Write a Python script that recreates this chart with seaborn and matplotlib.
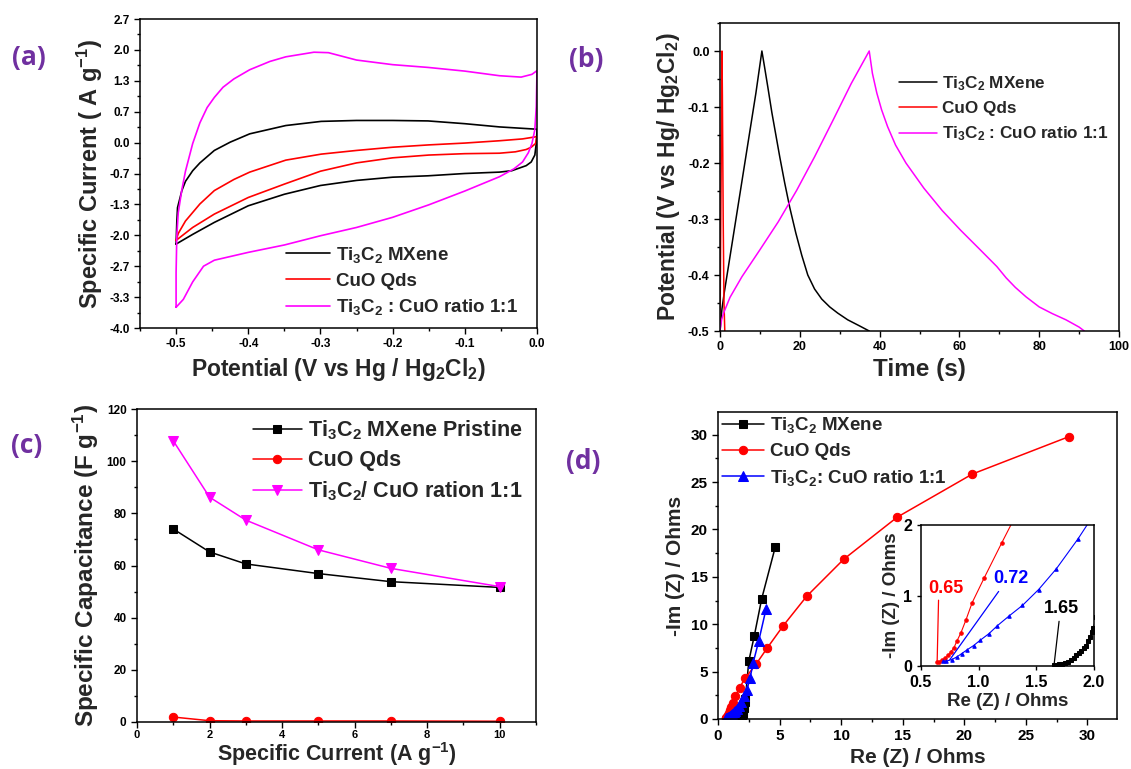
import numpy as np
import pandas as pd
import matplotlib
matplotlib.use('Agg')
import matplotlib.pyplot as plt
from matplotlib.ticker import MultipleLocator, FixedLocator
import seaborn as sns

sns.set_theme(style='ticks')
plt.rcParams['font.family'] = ['Liberation Sans', 'DejaVu Sans']
plt.rcParams['font.weight'] = 'bold'
plt.rcParams['axes.labelweight'] = 'bold'
plt.rcParams['mathtext.fontset'] = 'custom'
plt.rcParams['mathtext.rm'] = 'Liberation Sans:bold'
plt.rcParams['mathtext.it'] = 'Liberation Sans:bold'
plt.rcParams['mathtext.bf'] = 'Liberation Sans:bold'
plt.rcParams['mathtext.default'] = 'rm'
plt.rcParams['axes.linewidth'] = 1.1
plt.rcParams['axes.edgecolor'] = 'black'

PURPLE = '#7030A0'
BLACK, RED, MAG, BLUE = 'black', '#FF0000', '#FF00FF', '#0000FF'

lab_ti = r'Ti$_3$C$_2$ MXene'
lab_cuo = 'CuO Qds'
lab_mix = r'Ti$_3$C$_2$ : CuO ratio 1:1'

# ---- (a) CV curves: potential (V) / specific current (A/g), closed loops
cv_ti_v = [-0.500, -0.499, -0.498, -0.492, -0.487, -0.477, -0.467, -0.447, -0.425, -0.398, -0.348,
           -0.299, -0.250, -0.200, -0.151, -0.100, -0.052, 0.0,
           0.0, -0.001, -0.003, -0.008, -0.015, -0.035, -0.052, -0.100, -0.151, -0.200, -0.250,
           -0.300, -0.350, -0.400, -0.447, -0.477, -0.500]
cv_ti_i = [-2.18, -1.70, -1.39, -1.02, -0.82, -0.59, -0.42, -0.15, 0.03, 0.21, 0.39,
           0.48, 0.50, 0.50, 0.49, 0.43, 0.36, 0.31,
           0.28, 0.0, -0.25, -0.40, -0.48, -0.59, -0.62, -0.65, -0.70, -0.73, -0.80,
           -0.91, -1.10, -1.35, -1.71, -1.97, -2.18]

cv_cuo_v = [-0.500, -0.497, -0.487, -0.467, -0.447, -0.420, -0.398, -0.348, -0.299, -0.250, -0.200,
            -0.150, -0.100, -0.052, -0.020, 0.0,
            -0.002, -0.008, -0.015, -0.030, -0.052, -0.100, -0.150, -0.200, -0.250, -0.300,
            -0.350, -0.400, -0.447, -0.477, -0.500]
cv_cuo_i = [-2.10, -1.95, -1.68, -1.31, -1.02, -0.78, -0.62, -0.36, -0.23, -0.15, -0.08,
            -0.03, 0.01, 0.06, 0.10, 0.15,
            0.0, -0.08, -0.13, -0.18, -0.21, -0.22, -0.25, -0.31, -0.42, -0.60,
            -0.88, -1.17, -1.53, -1.82, -2.10]

cv_mix_v = [-0.500, -0.500, -0.499, -0.497, -0.492, -0.487, -0.477, -0.467, -0.457, -0.447, -0.435,
            -0.420, -0.398, -0.370, -0.348, -0.309, -0.289, -0.250, -0.200, -0.151, -0.100, -0.052,
            -0.022, -0.007, 0.0,
            -0.001, -0.003, -0.007, -0.012, -0.020, -0.032, -0.052, -0.100, -0.150, -0.200,
            -0.250, -0.300, -0.350, -0.400, -0.447, -0.462, -0.477, -0.490, -0.500]
cv_mix_i = [-3.55, -2.80, -2.00, -1.50, -1.00, -0.60, 0.00, 0.45, 0.78, 1.00, 1.22,
            1.40, 1.60, 1.78, 1.88, 1.98, 1.97, 1.81, 1.71, 1.65, 1.57, 1.47,
            1.44, 1.50, 1.58,
            0.80, 0.30, 0.00, -0.20, -0.40, -0.55, -0.72, -1.03, -1.33, -1.60,
            -1.82, -2.00, -2.20, -2.36, -2.53, -2.66, -3.00, -3.38, -3.55]

cv_yticks = list(np.linspace(-4.0, 2.7, 11))
cv_ylabels = ['-4.0', '-3.3', '-2.7', '-2.0', '-1.3', '-0.7', '0.0', '0.7', '1.3', '2.0', '2.7']
cv_xticks = [-0.5, -0.4, -0.3, -0.2, -0.1, 0.0]
cv_xlabels = ['-0.5', '-0.4', '-0.3', '-0.2', '-0.1', '0.0']

# ---- (b) GCD: time (s) / potential (V)
gcd_ti_t = [0, 0.5, 1.1, 3, 5, 7, 9, 10.5, 11.2, 12, 13, 14, 15, 16.2, 17.5, 19, 20.5, 22,
            23.7, 25.5, 27.5, 29.5, 32, 35, 37.4]
gcd_ti_v = [-0.5, -0.46, -0.43, -0.345, -0.255, -0.165, -0.075, 0.0, -0.03, -0.065, -0.11, -0.15,
            -0.19, -0.235, -0.28, -0.325, -0.365, -0.40, -0.425, -0.443, -0.457, -0.468, -0.48,
            -0.491, -0.5]
gcd_cuo_t = [0, 0.3, 0.5, 0.6, 0.8, 1.0, 1.2]
gcd_cuo_v = [-0.5, -0.2, 0.0, -0.08, -0.3, -0.45, -0.5]
gcd_mix_t = [0, 0.4, 0.9, 2.5, 5.5, 10, 14.6, 19.2, 23.7, 28.3, 32.9, 37.4,
             38.2, 39.3, 40.5, 42, 44, 46.6, 51.1, 55.7, 60.3, 64.8, 69.4, 71.7, 74, 76.7,
             80, 83.3, 86.7, 90, 91.3]
gcd_mix_v = [-0.5, -0.48, -0.468, -0.44, -0.403, -0.355, -0.305, -0.249, -0.189, -0.124, -0.058, 0.0,
             -0.04, -0.075, -0.105, -0.135, -0.168, -0.20, -0.245, -0.285, -0.32, -0.352, -0.385,
             -0.405, -0.422, -0.439, -0.457, -0.469, -0.48, -0.493, -0.5]

# ---- (c) rate capability
cur_density = [1, 2, 3, 5, 7, 10]
cap_ti = [74.0, 65.2, 60.6, 56.9, 53.8, 51.6]
cap_cuo = [1.9, 0.5, 0.4, 0.4, 0.4, 0.3]
cap_mix = [107.8, 86.2, 77.4, 66.0, 58.9, 51.9]

# ---- (d) Nyquist: Re(Z) / -Im(Z)
eis_ti_re = [1.654, 1.675, 1.70, 1.725, 1.75, 1.775, 1.80, 1.825, 1.847, 1.87, 1.89, 1.91, 1.93,
             1.95, 1.965, 1.98, 1.995, 2.02, 2.06, 2.10, 2.14, 2.18, 2.22, 2.5, 2.95, 3.55, 4.65]
eis_ti_im = [0.02, 0.02, 0.025, 0.03, 0.04, 0.06, 0.09, 0.12, 0.15, 0.18, 0.21, 0.25, 0.29,
             0.35, 0.41, 0.48, 0.545, 0.70, 0.90, 1.20, 1.50, 1.80, 2.10, 6.1, 8.8, 12.7, 18.15]
eis_cuo_re = [0.64, 0.66, 0.68, 0.71, 0.737, 0.76, 0.786, 0.81, 0.846, 0.889, 0.944, 1.048, 1.198,
              1.42, 1.75, 2.2, 3.1, 4.0, 5.3, 7.2, 10.2, 14.55, 20.65, 28.5]
eis_cuo_im = [0.06, 0.06, 0.08, 0.11, 0.15, 0.20, 0.26, 0.35, 0.47, 0.65, 0.90, 1.25, 1.74,
              2.45, 3.3, 4.3, 5.8, 7.5, 9.85, 12.95, 16.85, 21.3, 25.85, 29.8]
eis_mix_re = [0.69, 0.72, 0.765, 0.81, 0.852, 0.90, 0.956, 1.013, 1.09, 1.163, 1.264, 1.38, 1.52,
              1.674, 1.86, 2.1, 2.35, 2.6, 2.85, 3.3, 3.9]
eis_mix_im = [0.066, 0.07, 0.09, 0.128, 0.175, 0.23, 0.29, 0.365, 0.46, 0.573, 0.71, 0.86, 1.085,
              1.38, 1.80, 2.4, 3.1, 4.3, 5.9, 8.2, 11.6]

W, H = 1131, 769
fig = plt.figure(figsize=(W / 100, H / 100), dpi=100)


def box(l, t, r, b):
    return [l / W, 1 - b / H, (r - l) / W, (b - t) / H]


def style(ax, size):
    sns.despine(ax=ax, top=False, right=False)
    ax.tick_params(which='both', direction='out', top=False, right=False,
                   labelsize=size, width=1.0, colors='black')
    ax.tick_params(which='major', length=4)
    ax.tick_params(which='minor', length=2.5)
    ax.grid(False)


def line(ax, x, y, color, label=None, **kw):
    sns.lineplot(x=x, y=y, sort=False, estimator=None, color=color, label=label,
                 legend=label is not None, ax=ax, **kw)


# ---------------- (a)
ax = fig.add_axes(box(140, 19, 537, 328))
line(ax, cv_ti_v, cv_ti_i, BLACK, lab_ti, lw=1.2)
line(ax, cv_cuo_v, cv_cuo_i, RED, lab_cuo, lw=1.2)
line(ax, cv_mix_v, cv_mix_i, MAG, lab_mix, lw=1.2)
ax.set_xlim(-0.55, 0.0)
ax.set_ylim(-4.0, 2.7)
ax.set_xticks(cv_xticks, cv_xlabels)
ax.set_yticks(cv_yticks, cv_ylabels)
ax.xaxis.set_minor_locator(MultipleLocator(0.05))
ax.yaxis.set_minor_locator(FixedLocator([(a + b) / 2 for a, b in zip(cv_yticks[:-1], cv_yticks[1:])]))
style(ax, 8.5)
ax.set_xlabel(r'Potential (V vs Hg / Hg$_2$Cl$_2$)', fontsize=16.5, labelpad=4)
ax.set_ylabel(r'Specific Current ( A g$^{-1}$)', fontsize=17, labelpad=3)
ax.legend(loc='upper left', bbox_to_anchor=(0.368, 0.27), frameon=False, fontsize=13.5,
          handlelength=2.35, handletextpad=0.3, labelspacing=0.42, borderaxespad=0, borderpad=0)

# ---------------- (b)
ax = fig.add_axes(box(720, 23, 1119, 331))
line(ax, gcd_ti_t, gcd_ti_v, BLACK, lab_ti, lw=1.1)
line(ax, gcd_cuo_t, gcd_cuo_v, RED, lab_cuo, lw=1.1)
line(ax, gcd_mix_t, gcd_mix_v, MAG, lab_mix, lw=1.1)
ax.set_xlim(0, 100)
ax.set_ylim(-0.5, 0.05)
ax.xaxis.set_major_locator(MultipleLocator(20))
ax.xaxis.set_minor_locator(MultipleLocator(10))
ax.set_yticks([-0.5, -0.4, -0.3, -0.2, -0.1, 0.0], ['-0.5', '-0.4', '-0.3', '-0.2', '-0.1', '0.0'])
ax.yaxis.set_minor_locator(MultipleLocator(0.05))
style(ax, 9)
ax.set_xlabel('Time (s)', fontsize=17.5, labelpad=3)
ax.set_ylabel(r'Potential (V vs Hg/ Hg$_2$Cl$_2$)', fontsize=16.5, labelpad=4)
ax.legend(loc='upper left', bbox_to_anchor=(0.449, 0.835), frameon=False, fontsize=12.3,
          handlelength=2.2, handletextpad=0.3, labelspacing=0.5, borderaxespad=0, borderpad=0)

# ---------------- (c)
ax = fig.add_axes(box(137, 409, 536, 722))
line(ax, cur_density, cap_ti, BLACK, r'Ti$_3$C$_2$ MXene Pristine', lw=1.1, marker='s',
     markersize=6, markeredgecolor=BLACK)
line(ax, cur_density, cap_cuo, RED, lab_cuo, lw=1.1, marker='o', markersize=6, markeredgecolor=RED)
line(ax, cur_density, cap_mix, MAG, r'Ti$_3$C$_2$/ CuO ration 1:1', lw=1.1, marker='v',
     markersize=7, markeredgecolor=MAG)
ax.set_xlim(0, 11)
ax.set_ylim(0, 120)
ax.xaxis.set_major_locator(MultipleLocator(2))
ax.xaxis.set_minor_locator(MultipleLocator(1))
ax.yaxis.set_major_locator(MultipleLocator(20))
ax.yaxis.set_minor_locator(MultipleLocator(10))
style(ax, 8.5)
ax.tick_params(axis='x', pad=1.5, labelsize=8)
ax.set_xlabel(r'Specific Current (A g$^{-1}$)', fontsize=15.5, labelpad=0)
ax.set_ylabel(r'Specific Capacitance (F g$^{-1}$)', fontsize=17.5, labelpad=4)
ax.legend(loc='upper left', bbox_to_anchor=(0.29, 0.97), frameon=False, fontsize=15.5,
          handlelength=2.3, handletextpad=0.28, labelspacing=0.38, borderaxespad=0, borderpad=0)

# ---------------- (d)
ax = fig.add_axes(box(718, 412, 1117, 719))
line(ax, eis_ti_re, eis_ti_im, BLACK, lab_ti, lw=1.1, marker='s', markersize=6,
     markeredgecolor=BLACK)
line(ax, eis_cuo_re, eis_cuo_im, RED, lab_cuo, lw=1.1, marker='o', markersize=6,
     markeredgecolor=RED)
line(ax, eis_mix_re, eis_mix_im, BLUE, r'Ti$_3$C$_2$: CuO ratio 1:1', lw=1.1, marker='^',
     markersize=6.5, markeredgecolor=BLUE)
ax.set_xlim(0, 32.4)
ax.set_ylim(0, 32.4)
ax.xaxis.set_major_locator(MultipleLocator(5))
ax.xaxis.set_minor_locator(MultipleLocator(2.5))
ax.yaxis.set_major_locator(MultipleLocator(5))
ax.yaxis.set_minor_locator(MultipleLocator(2.5))
style(ax, 11)
ax.set_xlabel('Re (Z) / Ohms', fontsize=15, labelpad=3)
ax.set_ylabel('-Im (Z) / Ohms', fontsize=15, labelpad=4)
ax.legend(loc='upper left', bbox_to_anchor=(0.01, 0.99), frameon=False, fontsize=13.5,
          handlelength=2.25, handletextpad=0.3, labelspacing=0.42, borderaxespad=0, borderpad=0)

# inset
axi = fig.add_axes(box(921, 525, 1094, 666))
axi.set_facecolor('white')
line(axi, eis_ti_re, eis_ti_im, BLACK, lw=0.8, marker='s', markersize=2.5, markeredgecolor=BLACK)
line(axi, eis_cuo_re, eis_cuo_im, RED, lw=0.8, marker='o', markersize=2.5, markeredgecolor=RED)
line(axi, eis_mix_re, eis_mix_im, BLUE, lw=0.8, marker='^', markersize=2.5, markeredgecolor=BLUE)
axi.set_xlim(0.5, 2.0)
axi.set_ylim(0, 2)
axi.xaxis.set_major_locator(MultipleLocator(0.5))
axi.yaxis.set_major_locator(MultipleLocator(1))
style(axi, 11.5)
axi.tick_params(which='major', length=3)
axi.set_xlabel('Re (Z) / Ohms', fontsize=13.5, labelpad=2)
axi.set_ylabel('-Im (Z) / Ohms', fontsize=13.5, labelpad=2)
axi.annotate('0.65', xy=(eis_cuo_re[0], eis_cuo_im[0]), xytext=(0.72, 0.98), color=RED,
             fontsize=13, ha='center', va='bottom',
             arrowprops=dict(arrowstyle='-', color=RED, lw=0.9, relpos=(0.28, 0), shrinkA=0, shrinkB=0))
axi.annotate('0.72', xy=(0.75, 0.09), xytext=(1.28, 1.12), color=BLUE,
             fontsize=13, ha='center', va='bottom',
             arrowprops=dict(arrowstyle='-', color=BLUE, lw=0.9, relpos=(0.24, 0), shrinkA=1, shrinkB=0))
axi.annotate('1.65', xy=(eis_ti_re[0], eis_ti_im[0]), xytext=(1.72, 0.70), color=BLACK,
             fontsize=13, ha='center', va='bottom',
             arrowprops=dict(arrowstyle='-', color=BLACK, lw=0.9, relpos=(0.44, 0), shrinkA=1, shrinkB=0))

# panel letters
for txt, x, y in [('(a)', 29, 58), ('(b)', 586, 59), ('(c)', 27, 446), ('(d)', 583, 461)]:
    fig.text(x / W, 1 - y / H, txt, ha='center', va='center', fontsize=19,
             fontweight='bold', color=PURPLE, family=['Open Sans', 'DejaVu Sans'])

fig.savefig('out.png', dpi=100)
